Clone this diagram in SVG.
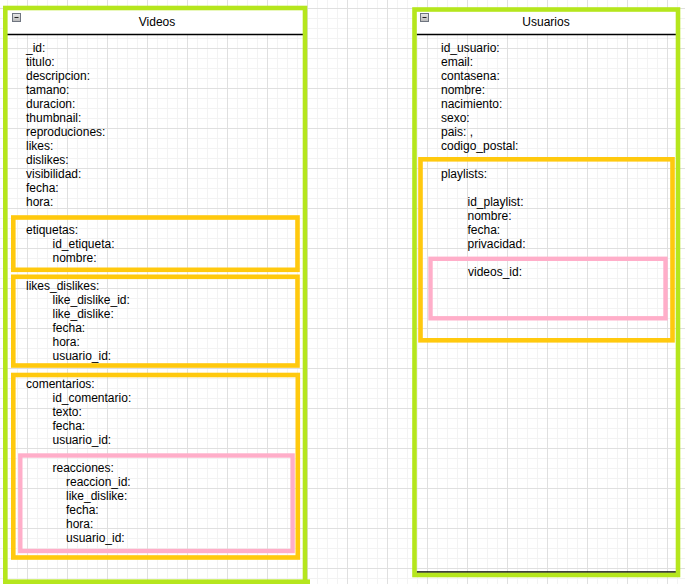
<svg xmlns="http://www.w3.org/2000/svg" width="685" height="584" viewBox="0 0 685 584">
<defs>
<pattern id="grid" patternUnits="userSpaceOnUse" x="27" y="8" width="40" height="40">
<rect width="40" height="40" fill="#ffffff"/>
<path d="M10.5 0V40M20.5 0V40M30.5 0V40M0 10.5H40M0 20.5H40M0 30.5H40" stroke="#f3f3f3" stroke-width="1" fill="none"/>
<path d="M0.5 0V40M0 0.5H40" stroke="#e0e0e0" stroke-width="1" fill="none"/>
</pattern>
<linearGradient id="ic" x1="0" y1="0" x2="0" y2="1">
<stop offset="0" stop-color="#e8e8e8"/>
<stop offset="1" stop-color="#b8b8b8"/>
</linearGradient>
<g id="minus">
<rect x="0.5" y="0.5" width="8" height="8" fill="url(#ic)" stroke="#6f7580" stroke-width="1"/>
<path d="M2.5 4.5H6.5" stroke="#222" stroke-width="1"/>
</g>
</defs>
<style>
text{font-family:"Liberation Sans",Arial,Helvetica,sans-serif;font-size:12px;fill:#000;}
.title{text-anchor:middle;}
.hdr{fill:#ffffff;stroke:none;}
.sep{stroke:#000;stroke-width:1.5;fill:none;}
.green{fill:none;stroke:#b5e61d;stroke-width:4.6;}
.orange{fill:none;stroke:#ffc90e;stroke-width:4.6;}
.pink{fill:none;stroke:#ffaec9;stroke-width:4.4;}
</style>
<rect x="0" y="0" width="685" height="584" fill="url(#grid)"/>

<g id="connectors"></g>

<g id="videos">
<rect class="hdr" x="7" y="10" width="296" height="24"/>
<path class="sep" d="M7 34.5H303"/>
<use href="#minus" x="12" y="13"/>
<text class="title" x="157" y="26">Videos</text>
<text x="26" y="52">_id:</text>
<text x="26" y="66">titulo:</text>
<text x="26" y="80">descripcion:</text>
<text x="26" y="94">tamano:</text>
<text x="26" y="108">duracion:</text>
<text x="26" y="122">thumbnail:</text>
<text x="26" y="136">reproduciones:</text>
<text x="26" y="150">likes:</text>
<text x="26" y="164">dislikes:</text>
<text x="26" y="178">visibilidad:</text>
<text x="26" y="192">fecha:</text>
<text x="26" y="206">hora:</text>
<g id="etiquetas">
<rect class="orange" x="13.3" y="217.5" width="284.2" height="52.3"/>
<text x="26" y="234">etiquetas:</text>
<text x="52.5" y="248">id_etiqueta:</text>
<text x="52.5" y="262">nombre:</text>
</g>
<g id="likes_dislikes">
<rect class="orange" x="13.3" y="276.8" width="284.2" height="88.7"/>
<text x="26" y="290">likes_dislikes:</text>
<text x="52.5" y="304">like_dislike_id:</text>
<text x="52.5" y="318">like_dislike:</text>
<text x="52.5" y="332">fecha:</text>
<text x="52.5" y="346">hora:</text>
<text x="52.5" y="360">usuario_id:</text>
</g>
<g id="comentarios">
<rect class="orange" x="13.3" y="375" width="284.5" height="182.5"/>
<text x="26" y="388">comentarios:</text>
<text x="52.5" y="402">id_comentario:</text>
<text x="52.5" y="416">texto:</text>
<text x="52.5" y="430">fecha:</text>
<text x="52.5" y="444">usuario_id:</text>
<g id="reacciones">
<rect class="pink" x="20.3" y="455.5" width="272.3" height="95.5"/>
<text x="52.5" y="472">reacciones:</text>
<text x="66" y="486">reaccion_id:</text>
<text x="66" y="500">like_dislike:</text>
<text x="66" y="514">fecha:</text>
<text x="66" y="528">hora:</text>
<text x="66" y="542">usuario_id:</text>
</g>
</g>
<rect class="green" x="5.3" y="8" width="299.7" height="573.7"/>
<path class="green" d="M303 581.7H310"/>
</g>

<g id="usuarios">
<rect class="hdr" x="416" y="11" width="260" height="23"/>
<path class="sep" d="M416.5 34.5H676"/>
<path class="sep" d="M416.5 572H676"/>
<use href="#minus" x="420" y="13"/>
<text class="title" x="546" y="26">Usuarios</text>
<text x="441" y="52">id_usuario:</text>
<text x="441" y="66">email:</text>
<text x="441" y="80">contasena:</text>
<text x="441" y="94">nombre:</text>
<text x="441" y="108">nacimiento:</text>
<text x="441" y="122">sexo:</text>
<text x="441" y="136">pais: ,</text>
<text x="441" y="150">codigo_postal:</text>
<g id="playlists">
<rect class="orange" x="420.5" y="159.3" width="252" height="181"/>
<text x="441" y="178">playlists:</text>
<text x="467.5" y="206">id_playlist:</text>
<text x="467.5" y="220">nombre:</text>
<text x="467.5" y="234">fecha:</text>
<text x="467.5" y="248">privacidad:</text>
<g id="videos_id">
<rect class="pink" x="430.5" y="258.8" width="235" height="59.5"/>
<text x="468" y="276">videos_id:</text>
</g>
</g>
<rect class="green" x="414.5" y="9.5" width="263.5" height="565.5"/>
</g>
</svg>
